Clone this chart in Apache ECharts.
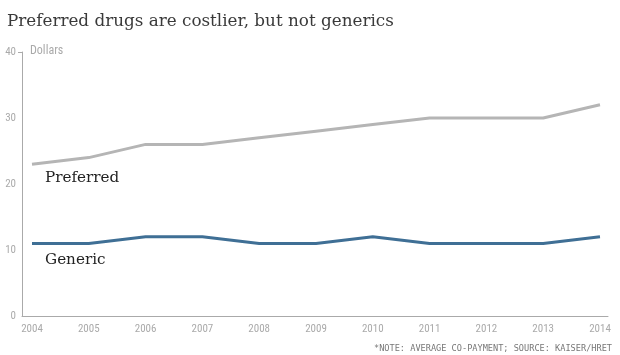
<!DOCTYPE html>
<html>
<head>
<meta charset="utf-8">
<script src="https://cdn.jsdelivr.net/npm/echarts@6/dist/echarts.min.js"></script>
<style>
html,body{margin:0;padding:0;background:#fff;}
#c{width:620px;height:355px;}
</style>
</head>
<body>
<div id="c"></div>
<script>
var years = [2004, 2005, 2006, 2007, 2008, 2009, 2010, 2011, 2012, 2013, 2014];
var preferred = [23, 24, 26, 26, 27, 28, 29, 30, 30, 30, 32];
var generic = [11, 11, 12, 12, 11, 11, 12, 11, 11, 11, 12];
var yTicks = [0, 10, 20, 30, 40];
var seriesNames = ['Preferred', 'Generic'];

var chart = echarts.init(document.getElementById('c'), null, {renderer: 'canvas'});
var narrow = '"Liberation Sans Narrow", "Roboto Condensed", Roboto, sans-serif';
var serif = '"DejaVu Serif", "Liberation Serif", serif';

function pairs(vals) { return years.map(function (y, i) { return [y, vals[i]]; }); }

chart.setOption({
  animation: false,
  backgroundColor: '#fff',
  title: {
    text: 'Preferred drugs are costlier, but not generics',
    left: 2, top: 8,
    textStyle: {fontFamily: serif, fontSize: 16.8, fontWeight: 'normal', color: '#3a3a3a'}
  },
  grid: {left: 22, right: 12, top: 52, bottom: 39},
  xAxis: {
    type: 'value',
    min: 2003.824, max: 2014.141,
    axisLine: {show: true, lineStyle: {color: '#aaa', width: 1}},
    axisTick: {show: false},
    splitLine: {show: false},
    axisLabel: {
      customValues: years,
      formatter: function (v) { return String(Math.round(v)); },
      color: '#aaa', fontFamily: narrow, fontSize: 11, margin: 8
    }
  },
  yAxis: {
    type: 'value', min: 0, max: 40,
    axisLine: {show: true, lineStyle: {color: '#aaa', width: 1}},
    axisTick: {show: true, customValues: [40], length: 4, lineStyle: {color: '#aaa'}},
    splitLine: {show: false},
    axisLabel: {customValues: yTicks, color: '#aaa', fontFamily: narrow, fontSize: 11, margin: 6}
  },
  series: [
    {
      name: seriesNames[0], type: 'line', data: pairs(preferred),
      showSymbol: false, symbol: 'none',
      lineStyle: {color: '#b5b5b5', width: 3}
    },
    {
      name: seriesNames[1], type: 'line', data: pairs(generic),
      showSymbol: false, symbol: 'none',
      lineStyle: {color: '#3f6f95', width: 3}
    }
  ]
});

var p0 = chart.convertToPixel({gridIndex: 0}, [years[0], preferred[0]]);
var g0 = chart.convertToPixel({gridIndex: 0}, [years[0], generic[0]]);
var topPx = chart.convertToPixel({gridIndex: 0}, [years[0], 40]);

chart.setOption({
  graphic: [
    {type: 'text', left: 30, top: topPx[1] - 7,
     style: {text: 'Dollars', fill: '#aaa', font: '12px ' + narrow}},
    {type: 'text', x: p0[0] + 13, y: p0[1] + 14,
     style: {text: seriesNames[0], fill: '#222', font: '15.2px ' + serif, verticalAlign: 'middle'}},
    {type: 'text', x: g0[0] + 13, y: g0[1] + 17,
     style: {text: seriesNames[1], fill: '#222', font: '15.2px ' + serif, verticalAlign: 'middle'}},
    {type: 'text', right: 8, top: 344,
     style: {text: '*NOTE: AVERAGE CO-PAYMENT; SOURCE: KAISER/HRET', fill: '#777', font: '8.6px "DejaVu Sans Mono", monospace'}}
  ]
});
</script>
</body>
</html>
